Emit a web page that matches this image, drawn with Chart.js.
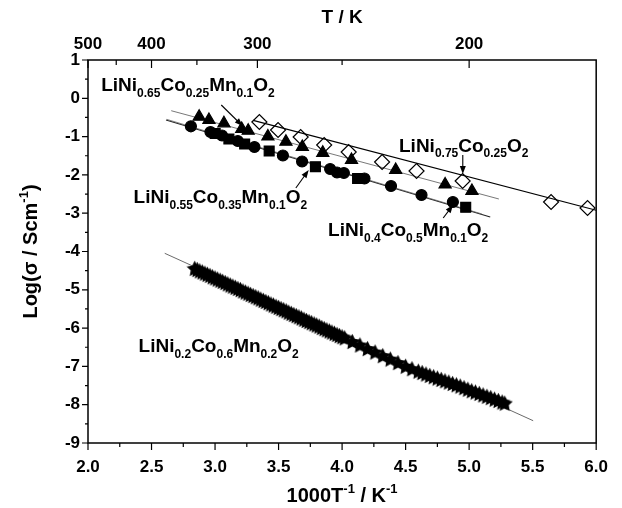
<!DOCTYPE html>
<html>
<head>
<meta charset="utf-8">
<script src="https://cdn.jsdelivr.net/npm/chart.js@4.4.1/dist/chart.umd.min.js"></script>
<style>
  html, body { margin: 0; padding: 0; background: #fff; }
</style>
</head>
<body>
<canvas id="arrhenius" width="622" height="508"></canvas>
<script>
// 1000/T (K^-1) and log(sigma / S cm^-1) for each composition
const ni075X = [3.349, 3.496, 3.674, 3.859, 4.052, 4.315, 4.586, 4.949, 5.645, 5.932];
const ni075Y = [-0.619, -0.828, -1.010, -1.219, -1.402, -1.663, -1.898, -2.159, -2.708, -2.864];

const ni065X = [2.875, 2.952, 3.070, 3.210, 3.261, 3.416, 3.558, 3.687, 3.848, 4.074, 4.422, 4.811, 5.022];
const ni065Y = [-0.480, -0.567, -0.653, -0.802, -0.846, -0.997, -1.133, -1.272, -1.423, -1.611, -1.872, -2.251, -2.420];

const ni055X = [3.001, 3.109, 3.233, 3.426, 3.790, 4.122, 4.973];
const ni055Y = [-0.919, -1.063, -1.193, -1.376, -1.786, -2.094, -2.846];

const ni04X = [2.810, 2.964, 3.055, 3.179, 3.310, 3.534, 3.685, 3.906, 3.960, 4.014, 4.176, 4.385, 4.625, 4.872];
const ni04Y = [-0.731, -0.880, -0.971, -1.115, -1.272, -1.493, -1.650, -1.846, -1.937, -1.950, -2.094, -2.290, -2.525, -2.708];

const ni02X = [2.84, 2.86, 2.88, 2.90, 2.92, 2.94, 2.96, 2.98, 3.00, 3.02, 3.04, 3.06, 3.08, 3.10, 3.12, 3.14,
  3.16, 3.18, 3.20, 3.22, 3.24, 3.26, 3.28, 3.30, 3.32, 3.34, 3.36, 3.38, 3.40, 3.42, 3.44, 3.46, 3.48, 3.50,
  3.52, 3.54, 3.56, 3.58, 3.60, 3.62, 3.64, 3.66, 3.68, 3.70, 3.72, 3.74, 3.76, 3.78, 3.80, 3.82, 3.84, 3.86,
  3.88, 3.90, 3.92, 3.94, 3.96, 3.98, 4.00, 4.02, 4.08, 4.14, 4.20, 4.26, 4.32, 4.38, 4.44, 4.50, 4.55, 4.60,
  4.63, 4.66, 4.69, 4.72, 4.75, 4.78, 4.81, 4.84, 4.87, 4.90, 4.93, 4.96, 4.99, 5.02, 5.05, 5.08, 5.11, 5.14,
  5.17, 5.20, 5.23, 5.26, 5.28];
const ni02Y = [-4.44, -4.47, -4.505, -4.535, -4.565, -4.595, -4.625, -4.66, -4.69, -4.72, -4.75, -4.78, -4.81,
  -4.845, -4.875, -4.905, -4.935, -4.965, -4.995, -5.03, -5.06, -5.09, -5.12, -5.15, -5.18, -5.21, -5.245,
  -5.275, -5.305, -5.335, -5.37, -5.40, -5.43, -5.46, -5.49, -5.52, -5.55, -5.585, -5.615, -5.645, -5.675,
  -5.705, -5.735, -5.77, -5.80, -5.83, -5.86, -5.89, -5.92, -5.95, -5.985, -6.015, -6.045, -6.075, -6.105,
  -6.135, -6.165, -6.195, -6.225, -6.255, -6.35, -6.44, -6.535, -6.625, -6.72, -6.81, -6.90, -6.995, -7.06,
  -7.125, -7.16, -7.20, -7.235, -7.27, -7.305, -7.34, -7.375, -7.41, -7.445, -7.48, -7.515, -7.555, -7.595,
  -7.635, -7.67, -7.705, -7.745, -7.78, -7.815, -7.855, -7.89, -7.93, -7.96];

// linear Arrhenius fits (end points)
const fit075X = [3.30, 6.00], fit075Y = [-0.576, -2.923];
const fit065X = [2.655, 5.234], fit065Y = [-0.324, -2.629];
const fit055X = [2.62, 5.10], fit055Y = [-0.55, -3.02];
const fit04X = [2.614, 5.166], fit04Y = [-0.567, -3.099];
const fit02X = [2.604, 5.504], fit02Y = [-4.047, -8.418];

// temperature scale on the top axis (K)
const topMajorT = [500, 400, 300, 200];
const topMinorT = [450, 350, 250];

// composition labels: [text, 'sub'|'sup'|undefined]
const labels = [
  [['LiNi'], ['0.65', 'sub'], ['Co'], ['0.25', 'sub'], ['Mn'], ['0.1', 'sub'], ['O'], ['2', 'sub']],
  [['LiNi'], ['0.55', 'sub'], ['Co'], ['0.35', 'sub'], ['Mn'], ['0.1', 'sub'], ['O'], ['2', 'sub']],
  [['LiNi'], ['0.75', 'sub'], ['Co'], ['0.25', 'sub'], ['O'], ['2', 'sub']],
  [['LiNi'], ['0.4', 'sub'], ['Co'], ['0.5', 'sub'], ['Mn'], ['0.1', 'sub'], ['O'], ['2', 'sub']],
  [['LiNi'], ['0.2', 'sub'], ['Co'], ['0.6', 'sub'], ['Mn'], ['0.2', 'sub'], ['O'], ['2', 'sub']]
];
const labelAt = [[2.104, 0.19], [2.359, -2.742], [4.448, -1.394], [3.890, -3.595], [2.398, -6.624]];
const arrows = [
  [3.049, -0.175, 3.217, -0.723],
  [3.636, -2.342, 3.737, -1.872],
  [4.950, -1.480, 4.950, -1.977],
  [4.796, -3.125, 4.873, -2.786]
];

const FONT = '"Liberation Sans", Arial, sans-serif';

function pts(xs, ys) {
  return xs.map((x, i) => ({ x: x, y: ys[i] }));
}

function makeStar(size) {
  const c = document.createElement('canvas');
  c.width = size; c.height = size;
  const g = c.getContext('2d');
  const cx = size / 2, cy = size / 2 + 0.8, ro = size / 2, ri = ro * 0.5;
  g.beginPath();
  for (let i = 0; i < 10; i++) {
    const r = i % 2 ? ri : ro;
    const a = -Math.PI / 2 + i * Math.PI / 5;
    g.lineTo(cx + r * Math.cos(a), cy + r * Math.sin(a));
  }
  g.closePath();
  g.fillStyle = '#000';
  g.fill();
  return c;
}

// draws text with sub/superscripts
function richText(ctx, parts, x, y, size, align) {
  const small = Math.round(size * 0.64);
  const fontOf = p => 'bold ' + (p[1] ? small : size) + 'px ' + FONT;
  let total = 0;
  parts.forEach(p => { ctx.font = fontOf(p); total += ctx.measureText(p[0]).width; });
  let cx = align === 'center' ? x - total / 2 : x;
  ctx.textAlign = 'left';
  ctx.textBaseline = 'alphabetic';
  parts.forEach(p => {
    ctx.font = fontOf(p);
    const dy = p[1] === 'sub' ? size * 0.3 : p[1] === 'sup' ? -size * 0.45 : 0;
    ctx.fillText(p[0], cx, y + dy);
    cx += ctx.measureText(p[0]).width;
  });
}

function arrow(ctx, x1, y1, x2, y2) {
  const a = Math.atan2(y2 - y1, x2 - x1), len = 8, w = 3;
  ctx.beginPath();
  ctx.moveTo(x1, y1);
  ctx.lineTo(x2 - len * 0.8 * Math.cos(a), y2 - len * 0.8 * Math.sin(a));
  ctx.stroke();
  ctx.beginPath();
  ctx.moveTo(x2, y2);
  ctx.lineTo(x2 - len * Math.cos(a) + w * Math.sin(a), y2 - len * Math.sin(a) - w * Math.cos(a));
  ctx.lineTo(x2 - len * Math.cos(a) - w * Math.sin(a), y2 - len * Math.sin(a) + w * Math.cos(a));
  ctx.closePath();
  ctx.fill();
}

const frame = {
  id: 'frame',
  afterDraw(chart) {
    const ctx = chart.ctx;
    const { left, right, top, bottom } = chart.chartArea;
    const x = chart.scales.x, y = chart.scales.y;
    ctx.save();
    ctx.strokeStyle = '#000';
    ctx.fillStyle = '#000';

    // box
    ctx.lineWidth = 1.5;
    ctx.strokeRect(left, top, right - left, bottom - top);

    // tick marks
    ctx.lineWidth = 1.2;
    ctx.beginPath();
    for (let v = 2; v <= 6.001; v += 0.25) {
      const px = x.getPixelForValue(v);
      const major = Math.abs(v * 2 - Math.round(v * 2)) < 1e-6;
      ctx.moveTo(px, bottom);
      ctx.lineTo(px, bottom + (major ? 7 : 4));
    }
    for (let v = -9; v <= 1.001; v += 0.5) {
      const py = y.getPixelForValue(v);
      const major = Math.abs(v - Math.round(v)) < 1e-6;
      ctx.moveTo(left, py);
      ctx.lineTo(left - (major ? 6 : 3), py);
    }
    topMajorT.forEach(t => {
      const px = x.getPixelForValue(1000 / t);
      ctx.moveTo(px, top); ctx.lineTo(px, top + 8);
    });
    topMinorT.forEach(t => {
      const px = x.getPixelForValue(1000 / t);
      ctx.moveTo(px, top); ctx.lineTo(px, top + 5);
    });
    ctx.stroke();

    // axis titles
    richText(ctx, [['1000T'], ['-1', 'sup'], [' / K'], ['-1', 'sup']], (left + right) / 2, 502, 20, 'center');
    ctx.save();
    ctx.translate(37, (top + bottom) / 2);
    ctx.rotate(-Math.PI / 2);
    richText(ctx, [['Log(\u03c3 / Scm'], ['-1', 'sup'], [')']], 0, 0, 20, 'center');
    ctx.restore();

    // composition labels and arrows
    labels.forEach((parts, i) => {
      richText(ctx, parts, x.getPixelForValue(labelAt[i][0]), y.getPixelForValue(labelAt[i][1]), 19, 'left');
    });
    ctx.lineWidth = 1.1;
    arrows.forEach(a => {
      arrow(ctx, x.getPixelForValue(a[0]), y.getPixelForValue(a[1]), x.getPixelForValue(a[2]), y.getPixelForValue(a[3]));
    });
    ctx.restore();
  }
};

function fitLine(xs, ys, color, width) {
  return {
    type: 'line', data: pts(xs, ys), borderColor: color, borderWidth: width,
    pointRadius: 0, showLine: true, fill: false, order: 5
  };
}

function markers(xs, ys, style, radius, fill) {
  return {
    type: 'scatter', data: pts(xs, ys), pointStyle: style, pointRadius: radius,
    pointBackgroundColor: fill, pointBorderColor: '#000', pointBorderWidth: 1.2, order: 1
  };
}

const tickFont = { family: FONT, size: 17, weight: 'bold' };

new Chart(document.getElementById('arrhenius'), {
  type: 'scatter',
  data: {
    datasets: [
      fitLine(fit075X, fit075Y, '#000', 1.2),
      fitLine(fit065X, fit065Y, '#555', 0.8),
      fitLine(fit055X, fit055Y, '#666', 0.8),
      fitLine(fit04X, fit04Y, '#222', 1.1),
      fitLine(fit02X, fit02Y, '#444', 0.8),
      markers(ni075X, ni075Y, 'rectRot', 7.5, 'rgba(0,0,0,0)'),
      markers(ni065X, ni065Y, 'triangle', 7, '#000'),
      markers(ni055X, ni055Y, 'rect', 7, '#000'),
      markers(ni04X, ni04Y, 'circle', 5.5, '#000'),
      markers(ni02X, ni02Y, makeStar(17), 8, '#000')
    ]
  },
  options: {
    responsive: false,
    animation: false,
    devicePixelRatio: 1,
    layout: { padding: { left: 0, right: 16, top: 0, bottom: 0 } },
    plugins: { legend: { display: false }, tooltip: { enabled: false } },
    scales: {
      x: {
        type: 'linear', position: 'bottom', min: 2, max: 6,
        grid: { display: false, drawTicks: false }, border: { display: false },
        ticks: { stepSize: 0.5, autoSkip: false, padding: 14, color: '#000', font: tickFont,
          callback: v => v.toFixed(1) },
        afterFit: s => { s.height = 65; }
      },
      x2: {
        type: 'linear', position: 'top', min: 2, max: 6,
        grid: { display: false, drawTicks: false }, border: { display: false },
        afterBuildTicks: s => { s.ticks = topMajorT.map(t => ({ value: 1000 / t })); },
        ticks: { autoSkip: false, padding: 5, color: '#000', font: tickFont,
          callback: v => String(Math.round(1000 / v)) },
        title: { display: true, text: 'T / K', color: '#000', padding: { top: 6, bottom: 4 },
          font: { family: FONT, size: 19, weight: 'bold' } },
        afterFit: s => { s.height = 60; }
      },
      y: {
        type: 'linear', position: 'left', min: -9, max: 1,
        grid: { display: false, drawTicks: false }, border: { display: false },
        ticks: { stepSize: 1, autoSkip: false, padding: 8, color: '#000', font: tickFont,
          callback: v => String(v) },
        afterFit: s => { s.width = 88; }
      }
    }
  },
  plugins: [frame]
});
</script>
</body>
</html>
